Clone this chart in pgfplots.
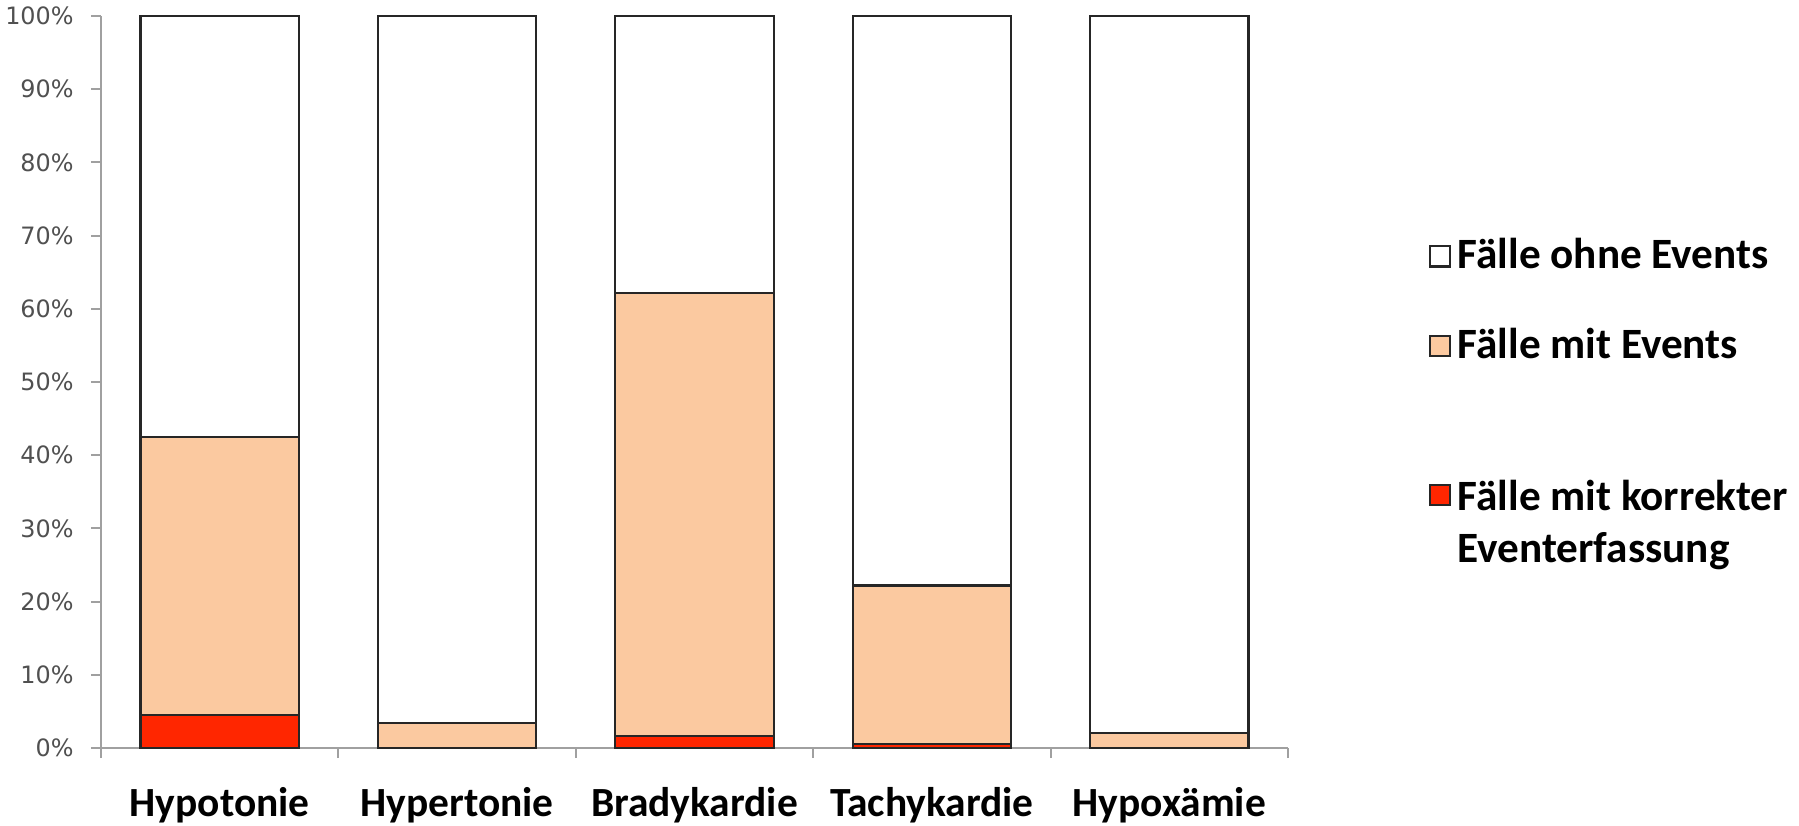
\documentclass[border=0pt]{standalone}
\usepackage{pgfplots}
\pgfplotsset{compat=1.18}
\usepackage{fontspec}
\setmainfont{Carlito}
\newfontfamily\tickfont{DejaVu Sans}
\definecolor{peach}{HTML}{FBC9A0}
\definecolor{evred}{HTML}{FF2600}
\definecolor{axgray}{HTML}{A0A0A0}
\definecolor{tickgray}{HTML}{505050}
% legend square moved down beside a two-line label
\pgfplotsset{lowlegend/.style={legend image code/.code={%
  \draw[##1, line width=0.6pt] (0cm,-0.375cm) rectangle (0.2cm,-0.175cm);}}}

\begin{document}
\begin{tikzpicture}
\useasboundingbox (-1.01,-0.78) rectangle (16.98,7.48);
\begin{axis}[
  at={(0,0)}, anchor=south west,
  scale only axis, width=11.87cm, height=7.32cm,
  ybar stacked, bar width=0.667,
  xmin=-0.5, xmax=4.5, ymin=0, ymax=100,
  axis x line*=bottom, axis y line*=left,
  axis line style={-, draw=axgray, line width=0.6pt},
  tick align=outside,
  major tick length=0.1cm,
  tick style={draw=axgray, line width=0.6pt},
  xtick={-0.5,0.5,1.5,2.5,3.5,4.5},
  xticklabels={},
  extra x ticks={0,1,2,3,4},
  extra x tick labels={Hypotonie,Hypertonie,Bradykardie,Tachykardie,Hypox\"amie},
  extra x tick style={tick style={draw=none}},
  xticklabel style={anchor=north, yshift=-0.17cm,
    font=\bfseries\fontsize{11.8}{13}\selectfont},
  ytick={0,10,...,100},
  /pgf/number format/assume math mode=true,
  yticklabel={\pgfmathprintnumber{\tick}\%},
  yticklabel style={font=\tickfont\fontsize{6.8}{8}\selectfont, text=tickgray, xshift=-0.05cm},
  every axis plot/.append style={draw=black!85, line width=0.6pt},
  reverse legend,
  legend cell align=left,
  legend style={at={(1.109,0.716)}, anchor=north west, draw=none,
    font=\bfseries\fontsize{12.3}{14.6}\selectfont, row sep=0.40cm,
    /tikz/every even column/.append style={column sep=0.05cm}},
  legend image code/.code={\draw[#1, line width=0.6pt] (0cm,-0.1cm) rectangle (0.2cm,0.1cm);},
]
% correctly recorded events
\addplot[fill=evred, lowlegend]
  coordinates {(0,4.5) (1,0) (2,1.6) (3,0.5) (4,0)};
% cases with events
\addplot[fill=peach] coordinates {(0,38.0) (1,3.4) (2,60.6) (3,21.7) (4,2.0)};
% cases without events
\addplot[fill=white] coordinates {(0,57.5) (1,96.6) (2,37.8) (3,77.8) (4,98.0)};
\legend{{\begin{tabular}[t]{@{}l@{}}\rule{0pt}{0.93cm}F\"alle mit korrekter\\Eventerfassung\end{tabular}},
        {F\"alle mit Events},
        {F\"alle ohne Events}}
\end{axis}
\end{tikzpicture}
\end{document}
